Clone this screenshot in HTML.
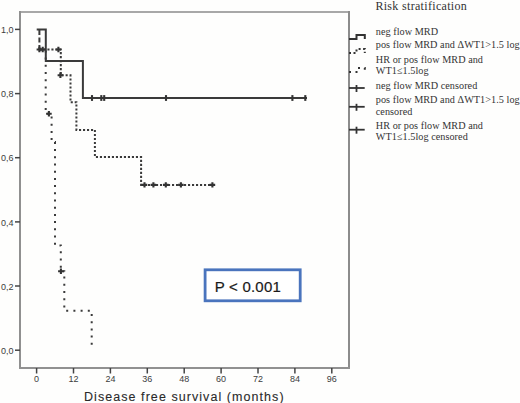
<!DOCTYPE html>
<html><head><meta charset="utf-8"><style>
html,body{margin:0;padding:0;background:#fefefd;width:520px;height:403px;overflow:hidden}
svg{display:block}
.ax{font-family:"Liberation Sans",sans-serif;font-size:9px;fill:#3c3c3c}
.lg{font-family:"Liberation Serif",serif;font-size:10.2px;letter-spacing:0.05px;fill:#333}
</style></head><body>
<svg width="520" height="403" viewBox="0 0 520 403">
<!-- frame -->
<line x1="20" y1="12" x2="349" y2="12" stroke="#a8a8a8" stroke-width="2"/>
<line x1="20" y1="11" x2="20" y2="369" stroke="#909090" stroke-width="2"/>
<line x1="349" y1="11" x2="349" y2="369" stroke="#8c8c8c" stroke-width="2"/>
<line x1="19" y1="368" x2="350" y2="368" stroke="#919191" stroke-width="2"/>
<!-- y ticks -->
<g stroke="#444" stroke-width="1.5">
<line x1="15" y1="29.4" x2="20" y2="29.4"/>
<line x1="15" y1="93.6" x2="20" y2="93.6"/>
<line x1="15" y1="157.7" x2="20" y2="157.7"/>
<line x1="15" y1="221.9" x2="20" y2="221.9"/>
<line x1="15" y1="286" x2="20" y2="286"/>
<line x1="15" y1="350.2" x2="20" y2="350.2"/>
</g>
<g class="ax" text-anchor="end">
<text x="13.5" y="33.1">1,0</text>
<text x="13.5" y="97.3">0,8</text>
<text x="13.5" y="161.4">0,6</text>
<text x="13.5" y="225.6">0,4</text>
<text x="13.5" y="289.7">0,2</text>
<text x="13.5" y="353.9">0,0</text>
</g>
<!-- x ticks -->
<g stroke="#444" stroke-width="1.5">
<line x1="36.6" y1="368" x2="36.6" y2="373.5"/>
<line x1="73.5" y1="368" x2="73.5" y2="373.5"/>
<line x1="110.4" y1="368" x2="110.4" y2="373.5"/>
<line x1="147.3" y1="368" x2="147.3" y2="373.5"/>
<line x1="184.2" y1="368" x2="184.2" y2="373.5"/>
<line x1="221.1" y1="368" x2="221.1" y2="373.5"/>
<line x1="258" y1="368" x2="258" y2="373.5"/>
<line x1="294.9" y1="368" x2="294.9" y2="373.5"/>
<line x1="331.8" y1="368" x2="331.8" y2="373.5"/>
</g>
<g class="ax" text-anchor="middle">
<text x="36.6" y="381.5">0</text>
<text x="73.5" y="381.5">12</text>
<text x="110.4" y="381.5">24</text>
<text x="147.3" y="381.5">36</text>
<text x="184.2" y="381.5">48</text>
<text x="221.1" y="381.5">60</text>
<text x="258" y="381.5">72</text>
<text x="294.9" y="381.5">84</text>
<text x="331.8" y="381.5">96</text>
</g>
<text x="84" y="400.5" font-family="Liberation Sans" font-size="12.5" fill="#2a2a2a" stroke="#2a2a2a" stroke-width="0.1" letter-spacing="1.06">Disease free survival (months)</text>

<!-- curves -->
<!-- dotted HR -->
<path d="M39.4 49.5H45.7V113.8H51.6V142H55V245.4H60.8V271.2H64.3V310.7H91.7V350" fill="none" stroke="#3a3a3a" stroke-width="2" stroke-dasharray="2 5.2"/>
<!-- dashed pos -->
<path d="M39.4 49.5H60.8V75.3H70.5V102.2H76.4V129.9H94.9V157H141.1V184.9H213.7" fill="none" stroke="#3a3a3a" stroke-width="2" stroke-dasharray="2.1 1.9"/>
<path d="M39.4 30V49.5" fill="none" stroke="#3a3a3a" stroke-width="2" stroke-dasharray="5 2.5"/>
<!-- solid neg -->
<path d="M36.7 29.4H45.8V61H82.9V98H307" fill="none" stroke="#3a3a3a" stroke-width="2"/>
<!-- censor marks -->
<g stroke="#333" stroke-width="2.1" fill="none">
<path d="M92 95.1V100.9"/>
<path d="M101.3 95.1V100.9"/>
<path d="M104.2 95.1V100.9"/>
<path d="M166 95.1V100.9"/>
<path d="M292.4 95.1V100.9"/>
<path d="M305.3 95.1V100.9"/>
<path d="M39.4 46.8V52.2M36.6 49.5H42.199999999999996"/>
<path d="M42.7 46.8V52.2M39.900000000000006 49.5H45.5"/>
<path d="M58.4 46.8V52.2M55.6 49.5H61.199999999999996"/>
<path d="M60.4 72.5V77.9M57.6 75.2H63.199999999999996"/>
<path d="M144.5 182.20000000000002V187.6M141.7 184.9H147.3"/>
<path d="M153.4 182.20000000000002V187.6M150.6 184.9H156.20000000000002"/>
<path d="M165.8 182.20000000000002V187.6M163.0 184.9H168.60000000000002"/>
<path d="M180.9 182.20000000000002V187.6M178.1 184.9H183.70000000000002"/>
<path d="M212.4 182.20000000000002V187.6M209.6 184.9H215.20000000000002"/>
<path d="M48.9 111.1V116.5M46.1 113.8H51.699999999999996"/>
<path d="M60.9 268.6V274.0M58.1 271.3H63.699999999999996"/>
</g>

<!-- legend -->
<text x="375.4" y="9.6" font-family="Liberation Serif" font-size="12" letter-spacing="0.32" fill="#333">Risk stratification</text>
<path d="M349 38.9H356.5V34.9H364.8V38.9" fill="none" stroke="#333" stroke-width="2"/>
<path d="M349 52.9H356.5V49H364.8V52.9" fill="none" stroke="#333" stroke-width="2" stroke-dasharray="2 2.5"/>
<path d="M349 72H356.5V68H364.8V72" fill="none" stroke="#333" stroke-width="2" stroke-dasharray="2 4.5"/>
<g stroke="#333" stroke-width="1.8">
<line x1="349" y1="88" x2="364.7" y2="88"/>
<line x1="356.5" y1="85" x2="356.5" y2="92"/>
<line x1="349" y1="106.8" x2="364.7" y2="106.8"/>
<line x1="356.5" y1="103.8" x2="356.5" y2="110.8"/>
<line x1="349" y1="129.7" x2="364.7" y2="129.7"/>
<line x1="356.5" y1="126.7" x2="356.5" y2="133.7"/>
</g>
<g class="lg">
<text x="375.8" y="35.2">neg flow MRD</text>
<text x="375.8" y="47.8">pos flow MRD and ΔWT1&gt;1.5 log</text>
<text x="375.8" y="62.8">HR or pos flow MRD and</text>
<text x="375.8" y="74.2">WT1≤1.5log</text>
<text x="375.8" y="88.6">neg flow MRD censored</text>
<text x="375.8" y="103">pos flow MRD and ΔWT1&gt;1.5 log</text>
<text x="375.8" y="114.5">censored</text>
<text x="375.8" y="128.8">HR or pos flow MRD and</text>
<text x="375.8" y="140.4">WT1≤1.5log censored</text>
</g>

<!-- p box -->
<rect x="205.1" y="269.8" width="95.1" height="31" fill="#fff" stroke="#4a74bd" stroke-width="2.8"/>
<text x="214.7" y="291.6" font-family="Liberation Sans" font-size="15" letter-spacing="0.22" fill="#1a1a1a" stroke="#1a1a1a" stroke-width="0.2">P &lt; 0.001</text>
</svg>
</body></html>
